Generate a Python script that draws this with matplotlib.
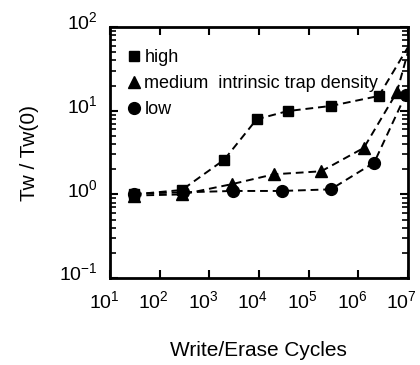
import matplotlib
matplotlib.use("Agg")
import matplotlib.pyplot as plt
import matplotlib.transforms as mtransforms
from matplotlib.lines import Line2D

plt.rcParams['font.family'] = ['Liberation Sans', 'DejaVu Sans']
plt.rcParams['mathtext.fontset'] = 'custom'
plt.rcParams['mathtext.rm'] = 'Liberation Sans'

# data
high_x = [30, 280, 2000, 9000, 3.8e4, 2.8e5, 2.6e6]
high_y = [1.0, 1.13, 2.6, 7.9, 9.9, 11.4, 15.0]
high_end_x = [2.6e6, 1.0e7]
high_end_y = [15.0, 57.0]

med_x = [30, 280, 2900, 2.0e4, 1.8e5, 1.3e6, 6.0e6]
med_y = [0.97, 1.0, 1.33, 1.74, 1.89, 3.6, 16.6]
med_end_x = [6.0e6, 1.05e7]
med_end_y = [16.6, 55.0]

low_x = [30, 300, 3000, 2.9e4, 2.8e5, 2.1e6, 9.0e6]
low_y = [1.02, 1.06, 1.1, 1.1, 1.15, 2.4, 15.4]

legend_labels = ['high', 'medium  intrinsic trap density', 'low']
x_ticks = [1e1, 1e2, 1e3, 1e4, 1e5, 1e6, 1e7]
x_tick_labels = ['$10^{1}$', '$10^{2}$', '$10^{3}$', '$10^{4}$', '$10^{5}$', '$10^{6}$', '$10^{7}$']
y_ticks = [1e-1, 1e0, 1e1, 1e2]
y_tick_labels = ['$10^{-1}$', '$10^{0}$', '$10^{1}$', '$10^{2}$']

fig = plt.figure(figsize=(4.2, 3.65), dpi=100)
ax = fig.add_axes([0.262, 0.238, 0.709, 0.688])

ls = dict(color='black', linestyle=(0, (4, 2.5)), linewidth=1.4)
ax.plot(high_x, high_y, marker='s', markersize=7.5, **ls)
ax.plot(high_end_x, high_end_y, **ls)
ax.plot(med_x, med_y, marker='^', markersize=9, **ls)
ax.plot(med_end_x, med_end_y, **ls)
ax.plot(low_x, low_y, marker='o', markersize=8.5, **ls)

ax.set_xscale('log')
ax.set_yscale('log')
ax.set_xlim(1e1, 1e7)
ax.set_ylim(1e-1, 1e2)
ax.set_xticks(x_ticks, x_tick_labels)
ax.set_yticks(y_ticks, y_tick_labels)

for s in ax.spines.values():
    s.set_linewidth(2)
ax.tick_params(which='both', direction='in', top=True, right=True, labelsize=14)
ax.tick_params(which='major', length=6, width=1.5, pad=9)
ax.tick_params(which='minor', length=4, width=1.2)

dx = mtransforms.ScaledTranslation(-6 / 100, 0, fig.dpi_scale_trans)
for lab in ax.get_xticklabels():
    lab.set_transform(lab.get_transform() + dx)
dy = mtransforms.ScaledTranslation(0, 6 / 100, fig.dpi_scale_trans)
for lab in ax.get_yticklabels():
    lab.set_transform(lab.get_transform() + dy)

ax.set_xlabel('Write/Erase Cycles', fontsize=15, labelpad=20)
ax.set_ylabel('Tw / Tw(0)', fontsize=15, labelpad=14)

handles = [Line2D([], [], color='black', marker=m, linestyle='none', markersize=ms)
           for m, ms in zip(['s', '^', 'o'], [6.5, 8.5, 8.5])]
ax.legend(handles, legend_labels, loc='upper left', frameon=False, fontsize=13,
          handlelength=0.6, handletextpad=0.3, labelspacing=0.5,
          bbox_to_anchor=(0.0, 0.985), borderaxespad=0.6)

fig.savefig('out.png', dpi=100)
